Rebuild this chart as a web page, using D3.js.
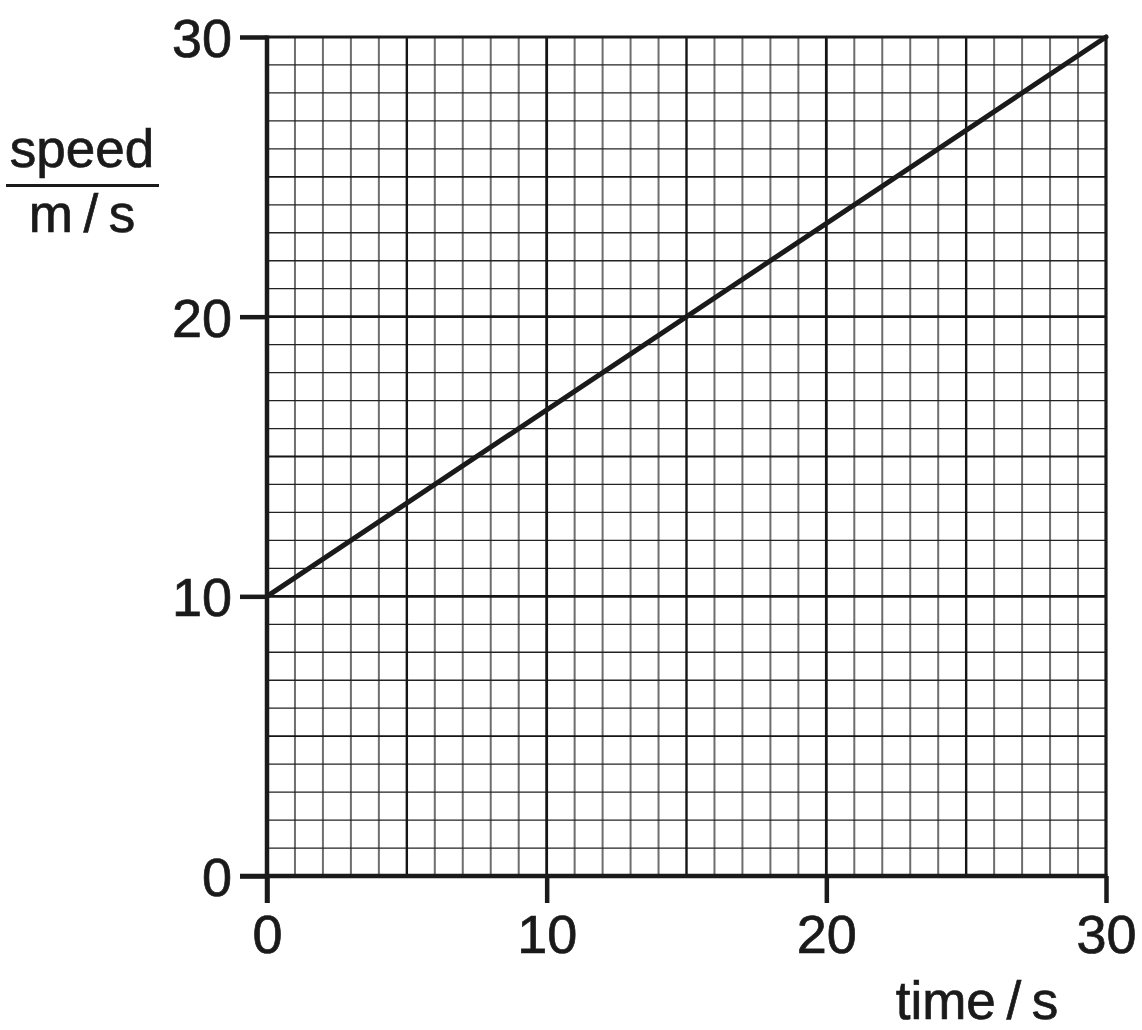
<!DOCTYPE html>
<html>
<head>
<meta charset="utf-8">
<script src="https://cdn.jsdelivr.net/npm/d3@7"></script>
<style>
  body { margin: 0; background: #fff; }
  svg text { font-family: "Liberation Sans", Arial, sans-serif; fill: #1a1a1a; stroke: #1a1a1a; stroke-width: 0.7px; }
</style>
</head>
<body>
<svg id="chart" width="1142" height="1030"></svg>
<script>
// data
const timeValues = [0, 30];
const speedValues = [10, 30];
const xTicks = [0, 10, 20, 30];
const yTicks = [0, 10, 20, 30];
const xLabel = "time\u2009/\u2009s";
const yLabelTop = "speed";
const yLabelBottom = "m\u2009/\u2009s";

const svg = d3.select("#chart");
const x = d3.scaleLinear().domain([0, 30]).range([267, 1106]);
const y = d3.scaleLinear().domain([0, 30]).range([876, 37]);

const minor = d3.range(1, 30).filter(d => d % 5 !== 0);
const fives = [5, 15, 25];
const tens = [10, 20];
const grid = svg.append("g");

// minor grid
grid.selectAll(".mv").data(minor).enter().append("line")
    .attr("x1", d => x(d)).attr("x2", d => x(d))
    .attr("y1", y(0)).attr("y2", y(30))
    .attr("stroke", "#6e6e6e").attr("stroke-width", 2);
grid.selectAll(".mh").data(minor).enter().append("line")
    .attr("y1", d => y(d)).attr("y2", d => y(d))
    .attr("x1", x(0)).attr("x2", x(30))
    .attr("stroke", "#222").attr("stroke-width", 1.3);

// every 5
grid.selectAll(".fv").data(fives).enter().append("line")
    .attr("x1", d => x(d)).attr("x2", d => x(d))
    .attr("y1", y(0)).attr("y2", y(30))
    .attr("stroke", "#151515").attr("stroke-width", 2.4);
grid.selectAll(".fh").data(fives).enter().append("line")
    .attr("y1", d => y(d)).attr("y2", d => y(d))
    .attr("x1", x(0)).attr("x2", x(30))
    .attr("stroke", "#151515").attr("stroke-width", 1.9);

// every 10
grid.selectAll(".tv").data(tens).enter().append("line")
    .attr("x1", d => x(d)).attr("x2", d => x(d))
    .attr("y1", y(0)).attr("y2", y(30))
    .attr("stroke", "#151515").attr("stroke-width", 2.8);
grid.selectAll(".th").data(tens).enter().append("line")
    .attr("y1", d => y(d)).attr("y2", d => y(d))
    .attr("x1", x(0)).attr("x2", x(30))
    .attr("stroke", "#151515").attr("stroke-width", 2.8);

// top and right border
svg.append("line").attr("x1", x(0)).attr("x2", x(30) + 1.5).attr("y1", y(30)).attr("y2", y(30))
    .attr("stroke", "#1a1a1a").attr("stroke-width", 3.2);
svg.append("line").attr("x1", x(30)).attr("x2", x(30)).attr("y1", y(30)).attr("y2", y(0))
    .attr("stroke", "#1a1a1a").attr("stroke-width", 3.2);

// axes
const xAxis = svg.append("g").attr("transform", `translate(0,${y(0)})`)
    .call(d3.axisBottom(x).tickValues(xTicks).tickSize(27).tickPadding(12).tickSizeOuter(0));
const yAxis = svg.append("g").attr("transform", `translate(${x(0)},0)`)
    .call(d3.axisLeft(y).tickValues(yTicks).tickSize(27).tickPadding(8).tickSizeOuter(0));

[xAxis, yAxis].forEach(g => {
  g.select(".domain").attr("stroke", "#1a1a1a").attr("stroke-width", 4.5);
  g.selectAll(".tick line").attr("stroke", "#1a1a1a").attr("stroke-width", 4.5);
  g.selectAll(".tick text").attr("font-size", 54).attr("fill", "#1a1a1a")
      .style("font-family", '"Liberation Sans", Arial, sans-serif');
});
xAxis.select(".domain").attr("d", `M${x(0) - 27},0H${x(30) + 1.5}`);
yAxis.select(".domain").attr("d", `M0,${y(0) + 27}V${y(30) - 1.5}`);
xAxis.selectAll(".tick text").attr("dy", "0.71em");
yAxis.selectAll(".tick text").attr("dy", "0.36em");

// the speed line
const line = d3.line().x((d, i) => x(timeValues[i])).y(d => y(d));
svg.append("path").datum(speedValues)
    .attr("d", line)
    .attr("fill", "none").attr("stroke", "#1a1a1a").attr("stroke-width", 5)
    .attr("stroke-linecap", "round");

// axis labels
svg.append("text").attr("x", 82).attr("y", 167).attr("text-anchor", "middle")
    .attr("font-size", 53).text(yLabelTop);
svg.append("line").attr("x1", 6).attr("x2", 159).attr("y1", 185.5).attr("y2", 185.5)
    .attr("stroke", "#1a1a1a").attr("stroke-width", 3);
svg.append("text").attr("x", 82).attr("y", 232).attr("text-anchor", "middle")
    .attr("font-size", 53).text(yLabelBottom);
svg.append("text").attr("x", 977).attr("y", 1019).attr("text-anchor", "middle")
    .attr("font-size", 53).text(xLabel);
</script>
</body>
</html>
